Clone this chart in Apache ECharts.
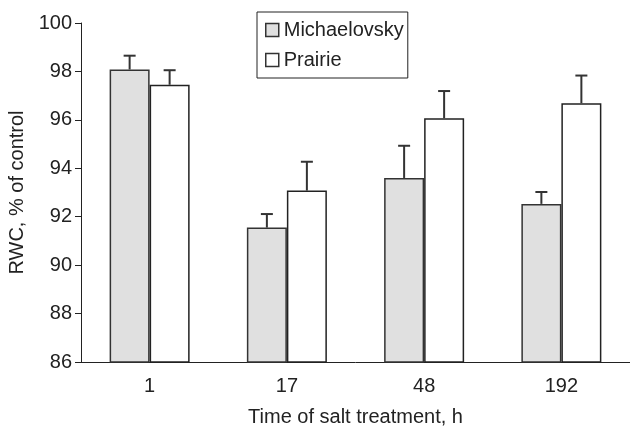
<!DOCTYPE html>
<html>
<head>
<meta charset="utf-8">
<script src="https://cdn.jsdelivr.net/npm/echarts@6/dist/echarts.min.js"></script>
<style>html,body{margin:0;padding:0;background:#fff}#c{width:630px;height:427px}</style>
</head>
<body>
<div id="c"></div>
<script>
const categories = ['1', '17', '48', '192'];
const michaelovsky = [98.08, 91.55, 93.6, 92.53];
const michaelovskyErr = [0.57, 0.56, 1.33, 0.49];
const prairie = [97.45, 93.08, 96.07, 96.69];
const prairieErr = [0.6, 1.19, 1.12, 1.14];
const yTicks = { min: 86, max: 100, interval: 2 };

const chart = echarts.init(document.getElementById('c'));
const FONT = 'Liberation Sans, Arial, sans-serif';
const BAR_W = 40;

function errSeries(vals, errs, offset) {
  return {
    type: 'custom',
    z: 1,
    data: vals.map((v, i) => [i, v, v + errs[i]]),
    renderItem: function (params, api) {
      const base = api.coord([api.value(0), api.value(1)]);
      const top = api.coord([api.value(0), api.value(2)]);
      const x = base[0] + offset;
      return {
        type: 'group',
        children: [
          { type: 'line', shape: { x1: x, y1: base[1], x2: x, y2: top[1] }, style: { stroke: '#333', lineWidth: 2 } },
          { type: 'line', shape: { x1: x - 6, y1: top[1], x2: x + 6, y2: top[1] }, style: { stroke: '#333', lineWidth: 2 } }
        ]
      };
    },
    silent: true
  };
}

chart.setOption({
  animation: false,
  textStyle: { fontFamily: FONT },
  grid: { left: 81, right: 0, top: 23, bottom: 65, containLabel: false, outerBoundsMode: 'none' },
  legend: {
    orient: 'vertical',
    left: 257, top: 12,
    padding: [8, 4, 8, 8],
    itemGap: 10,
    itemWidth: 13, itemHeight: 13,
    itemTextGap: 5,
    borderColor: '#222', borderWidth: 1,
    textStyle: { fontSize: 20, lineHeight: 20, color: '#222', fontFamily: FONT },
    data: [
      { name: 'Michaelovsky', icon: 'rect', itemStyle: { color: '#e0e0e0', borderColor: '#333', borderWidth: 1.5 } },
      { name: 'Prairie', icon: 'rect', itemStyle: { color: '#fff', borderColor: '#333', borderWidth: 1.5 } }
    ]
  },
  xAxis: {
    type: 'category',
    data: categories,
    name: 'Time of salt treatment, h',
    nameLocation: 'middle',
    nameGap: 45,
    nameTextStyle: { fontSize: 20, color: '#222', fontFamily: FONT },
    axisLine: { lineStyle: { color: '#222', width: 1 } },
    axisTick: { length: 6, lineStyle: { color: '#222' } },
    axisLabel: { fontSize: 20, color: '#222', margin: 14, fontFamily: FONT }
  },
  yAxis: {
    type: 'value',
    min: yTicks.min, max: yTicks.max, interval: yTicks.interval,
    name: 'RWC, % of control',
    nameLocation: 'middle',
    nameGap: 52,
    nameTextStyle: { fontSize: 20, color: '#222', fontFamily: FONT },
    axisLine: { show: true, lineStyle: { color: '#222', width: 1 } },
    axisTick: { show: true, length: 6, lineStyle: { color: '#222' } },
    splitLine: { show: false },
    axisLabel: { fontSize: 20, color: '#222', margin: 9, fontFamily: FONT }
  },
  series: [
    {
      name: 'Michaelovsky', type: 'bar', data: michaelovsky,
      barWidth: BAR_W, barGap: '0%',
      itemStyle: { color: '#e0e0e0', borderColor: '#333', borderWidth: 1.5 }
    },
    {
      name: 'Prairie', type: 'bar', data: prairie,
      barWidth: BAR_W, barGap: '0%',
      itemStyle: { color: '#fff', borderColor: '#222', borderWidth: 1.5 }
    },
    errSeries(michaelovsky, michaelovskyErr, -BAR_W / 2),
    errSeries(prairie, prairieErr, BAR_W / 2)
  ]
});
</script>
</body>
</html>
